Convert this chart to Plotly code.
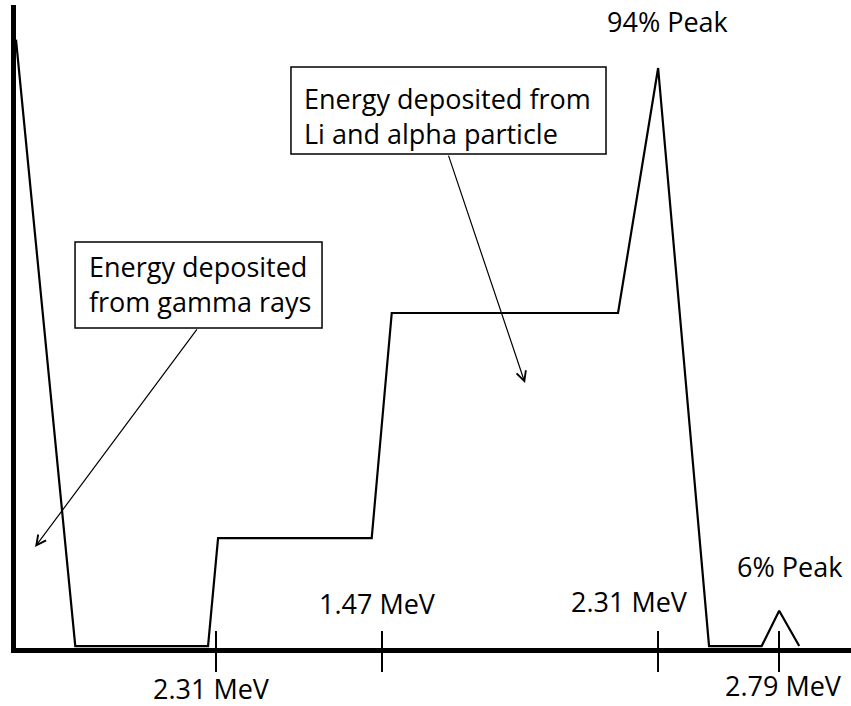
import plotly.graph_objects as go

# Schematic pulse-height spectrum of a 6Li / 10B style neutron detector
channel = [0, 71, 230, 242, 426, 450, 721, 769, 830, 893, 914, 938]
counts = [94.6, 0.3, 0.3, 17.1, 17.1, 52.1, 52.1, 90.2, 0.3, 0.3, 5.8, 0.3]

# Energy markers on the channel axis
tick_channels = [239.5, 438.3, 768.9, 913.8]
tick_labels = ["2.31 MeV", "1.47 MeV", "2.31 MeV", "2.79 MeV"]
tick_label_channels = [234.7, 433.5, 735.3, 918.9]
tick_label_y = [-0.0630, 0.0685, 0.0730, -0.0580]

peak_labels = ["94% Peak", "6% Peak"]
peak_label_channels = [780.8, 926.9]
peak_label_y = [0.975, 0.1275]

# Callouts: box extent (channel x0, x1, paper y0, y1), text anchor, text
callout_text = ["Energy deposited<br>from gamma rays",
                "Energy deposited from<br>Li and alpha particle"]
callout_box = [(70.7, 366.5, 0.4977, 0.6314), (329.3, 706.6, 0.7683, 0.9036)]
callout_text_pos = [(85.0, 0.566), (343.0, 0.827)]
# arrows: (tip channel, tip counts, tail channel, tail counts)
callout_arrow = [(22.8, 15.7, 218.0, 49.8), (609.6, 41.2, 517.4, 76.8)]

FONT = "Open Sans"
FS = 27

fig = go.Figure()
fig.add_trace(go.Scatter(
    x=channel, y=counts, mode="lines",
    line=dict(color="black", width=2.2),
    hoverinfo="skip", showlegend=False,
))

# crossing tick marks
for c in tick_channels:
    fig.add_shape(type="line", xref="x", yref="paper",
                  x0=c, x1=c, y0=0.0264, y1=-0.0373,
                  line=dict(color="black", width=2))

# callout frames
for (x0, x1, y0, y1) in callout_box:
    fig.add_shape(type="rect", xref="x", yref="paper",
                  x0=x0, x1=x1, y0=y0, y1=y1,
                  line=dict(color="black", width=1.5), fillcolor="white",
                  layer="above")

annotations = []
for c, txt, yy in zip(tick_label_channels, tick_labels, tick_label_y):
    annotations.append(dict(
        x=c, xref="x", y=yy, yref="paper",
        text=txt, showarrow=False, xanchor="center", yanchor="middle",
        font=dict(family=FONT, size=FS, color="black"),
    ))

for c, txt, yy in zip(peak_label_channels, peak_labels, peak_label_y):
    annotations.append(dict(
        x=c, xref="x", y=yy, yref="paper", text=txt, showarrow=False,
        xanchor="center", yanchor="middle",
        font=dict(family=FONT, size=FS, color="black"),
    ))

for txt, (tx, ty) in zip(callout_text, callout_text_pos):
    annotations.append(dict(
        x=tx, xref="x", y=ty, yref="paper", text=txt, showarrow=False,
        xanchor="left", yanchor="middle", align="left",
        font=dict(family=FONT, size=FS, color="black"),
    ))

for (tx, ty, sx, sy) in callout_arrow:
    annotations.append(dict(
        x=tx, y=ty, xref="x", yref="y", ax=sx, ay=sy, axref="x", ayref="y",
        text="", showarrow=True, arrowhead=5, arrowsize=1.6, arrowwidth=1.2,
        arrowcolor="black", standoff=0,
    ))

fig.update_layout(
    width=851, height=706,
    margin=dict(l=16, r=0, t=5, b=58),
    paper_bgcolor="white", plot_bgcolor="white",
    annotations=annotations,
    xaxis=dict(range=[0, 1000], showgrid=False, zeroline=False,
               showticklabels=False, ticks="", showline=True,
               linecolor="black", linewidth=4.5, fixedrange=True),
    yaxis=dict(range=[0, 100], showgrid=False, zeroline=False,
               showticklabels=False, ticks="", showline=True,
               linecolor="black", linewidth=4.5, fixedrange=True),
)

fig.write_html("out.html")
